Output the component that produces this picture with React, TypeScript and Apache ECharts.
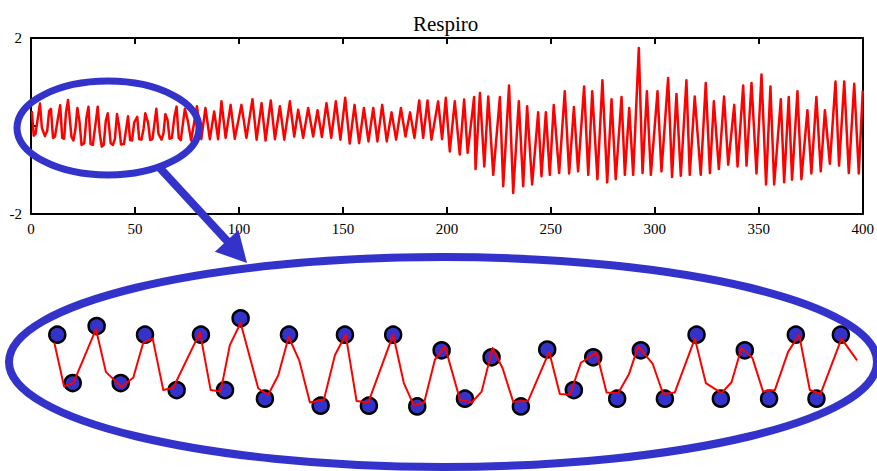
import React, { useEffect, useRef } from "react";
import * as echarts from "echarts";

const chartTitle = "Respiro";
const xTickValues = [0, 50, 100, 150, 200, 250, 300, 350, 400];
const yTickLabels = ["-2", "2"];

// Magnified part of the signal (first ~75 samples), shown in the lower ellipse too
const detailX = [0.40, 1.31, 2.18, 4.30, 5.23, 6.70, 7.79, 8.72, 9.60, 10.59, 11.52, 14.02, 15.02, 15.95, 16.82, 17.82, 19.47, 20.40, 21.34, 22.31, 23.30, 24.30, 25.61, 26.64, 27.64, 28.66, 29.75, 32.08, 33.08, 34.02, 34.98, 35.98, 36.92, 38.32, 39.41, 40.35, 41.37, 42.31, 43.30, 44.70, 46.66, 47.66, 48.60, 49.63, 51.09, 52.03, 53.11, 54.14, 54.98, 56.33, 57.32, 58.41, 60.28, 61.31, 62.78, 63.71, 64.64, 65.67, 66.66, 67.76, 69.00, 70.03, 71.03, 72.03, 73.99, 75.45];
const detailY = [0.34, -0.22, -0.18, 0.51, -0.04, -0.23, -0.11, 0.34, 0.39, -0.27, -0.24, 0.47, -0.27, -0.29, 0.31, 0.59, -0.25, -0.33, -0.08, 0.41, 0.11, -0.43, -0.39, 0.18, 0.44, -0.41, -0.43, 0.44, -0.18, -0.47, -0.43, 0.12, 0.29, -0.39, -0.43, -0.29, 0.27, 0.01, -0.42, -0.41, 0.22, -0.32, -0.33, 0.08, 0.21, -0.30, -0.31, -0.06, 0.29, 0.07, -0.32, -0.30, 0.39, -0.18, -0.31, -0.17, 0.27, 0.14, -0.29, -0.27, 0.22, 0.44, -0.27, -0.32, 0.39, 0.11];

// Remaining signal (peaks and troughs)
const restX = [77.0, 79.8, 81.9, 83.9, 86.0, 88.1, 90.0, 91.6, 93.6, 96.0, 98.0, 101.2, 103.6, 106.5, 108.5, 110.9, 112.8, 115.3, 117.3, 119.7, 121.8, 124.5, 126.6, 128.5, 130.9, 133.3, 135.7, 137.8, 139.9, 142.1, 144.4, 146.6, 148.8, 151.1, 153.3, 155.6, 157.8, 160.1, 162.3, 164.6, 166.6, 168.9, 171.1, 173.4, 175.6, 177.9, 180.1, 182.3, 184.4, 186.7, 188.6, 190.7, 192.6, 195.8, 197.7, 199.5, 201.4, 203.8, 206.2, 208.3, 210.0, 213.1, 213.8, 215.9, 218.0, 219.9, 222.3, 225.5, 227.1, 229.9, 231.9, 234.6, 236.7, 238.6, 241.0, 243.9, 245.5, 247.6, 249.5, 251.4, 254.0, 256.7, 258.8, 261.1, 263.1, 266.0, 268.0, 269.9, 272.4, 274.8, 277.1, 279.2, 281.2, 284.0, 285.6, 287.7, 289.6, 292.3, 294.1, 296.2, 298.1, 301.3, 303.2, 306.4, 308.3, 310.4, 312.5, 315.2, 316.8, 319.2, 322.1, 324.5, 326.5, 328.4, 330.8, 333.3, 335.3, 338.2, 339.8, 342.5, 344.1, 346.5, 348.9, 351.3, 353.5, 355.6, 357.4, 360.6, 362.2, 364.4, 366.0, 368.6, 370.5, 373.4, 375.3, 377.7, 379.8, 381.8, 384.2, 386.9, 388.6, 391.1, 393.3, 395.9, 398.1, 400.0];
const restY = [-0.33, 0.45, -0.30, 0.41, -0.30, 0.33, -0.30, 0.56, -0.27, 0.48, -0.29, 0.48, -0.27, 0.61, -0.31, 0.52, -0.33, 0.58, -0.30, 0.45, -0.31, 0.56, -0.24, 0.37, -0.27, 0.41, -0.24, 0.36, -0.25, 0.52, -0.27, 0.56, -0.31, 0.64, -0.40, 0.48, -0.39, 0.41, -0.35, 0.41, -0.35, 0.48, -0.35, 0.31, -0.31, 0.41, -0.24, 0.31, -0.27, 0.58, -0.27, 0.58, -0.31, 0.56, -0.30, 0.64, -0.58, 0.56, -0.65, 0.60, -0.61, 0.66, -0.98, 0.75, -0.92, 0.67, -1.11, 0.66, -1.37, 0.92, -1.52, 0.56, -1.37, 0.45, -1.33, 0.31, -1.14, 0.31, -1.11, 0.48, -1.07, 0.79, -1.08, 0.43, -1.03, 0.90, -1.11, 0.79, -1.21, 1.04, -1.28, 0.61, -1.21, 0.66, -1.11, 0.41, -1.11, 1.77, -1.07, 0.79, -1.11, 0.79, -1.03, 1.09, -1.16, 0.73, -1.13, 1.04, -1.11, 0.67, -1.11, 0.98, -1.07, 0.56, -0.98, 0.67, -0.88, 0.48, -0.92, 0.92, -0.90, 0.98, -1.08, 1.17, -1.33, 0.90, -1.33, 0.61, -1.28, 0.66, -1.22, 0.79, -1.21, 0.36, -1.08, 0.66, -1.03, 0.36, -0.86, 1.01, -0.90, 1.01, -1.07, 0.96, -1.08, 0.80];

// Marked peaks / troughs in the magnified view
const dotX = [0.68, 2.12, 4.36, 6.61, 8.88, 11.84, 14.11, 16.36, 17.82, 20.09, 22.34, 25.30, 27.57, 29.81, 32.08, 34.33, 36.61, 38.79, 41.28, 44.02, 46.48, 48.97, 50.78, 53.02, 55.23, 57.48, 60.44, 62.71, 64.95, 67.22, 69.72, 71.65, 73.93];
const dotY = [0.44, -0.18, 0.55, -0.18, 0.44, -0.27, 0.44, -0.27, 0.65, -0.38, 0.44, -0.47, 0.44, -0.47, 0.44, -0.48, 0.24, -0.38, 0.15, -0.48, 0.25, -0.27, 0.15, -0.38, 0.24, -0.38, 0.44, -0.38, 0.24, -0.38, 0.44, -0.38, 0.44];

const BLUE = "#3333CC";
const RED = "#FF0000";
const FONT = "Liberation Serif";

export default function App() {
  const ref = useRef<HTMLDivElement>(null);
  useEffect(() => {
    if (!ref.current) return;
    const chart = echarts.init(ref.current, null, { renderer: "svg" });
    const full = [
      ...detailX.map((x, i) => [x, detailY[i]]),
      ...restX.map((x, i) => [x, restY[i]]),
    ];
    const detail = detailX.map((x, i) => [x, detailY[i]]);
    const dots = dotX.map((x, i) => [x, dotY[i]]);
    const axisLine = { show: true, onZero: false, lineStyle: { color: "#000", width: 2 } };
    chart.setOption({
      animation: false,
      backgroundColor: "#fff",
      title: {
        text: chartTitle,
        left: 408,
        top: 8,
        textStyle: { fontFamily: FONT, fontSize: 21, fontWeight: "normal", color: "#000" },
      },
      grid: [
        { left: 31, top: 38, width: 833, height: 176 },
        { left: 50, top: 291, width: 813, height: 156 },
      ],
      xAxis: [
        {
          type: "value", gridIndex: 0, min: xTickValues[0], max: xTickValues[xTickValues.length - 1],
          interval: xTickValues[1] - xTickValues[0], position: "bottom",
          axisLine, splitLine: { show: false },
          axisTick: { inside: true, length: 7, lineStyle: { color: "#000", width: 2 } },
          axisLabel: { color: "#000", fontFamily: FONT, fontSize: 15, margin: 7 },
        },
        {
          type: "value", gridIndex: 0, min: xTickValues[0], max: xTickValues[xTickValues.length - 1],
          interval: xTickValues[1] - xTickValues[0], position: "top",
          axisLine, splitLine: { show: false },
          axisTick: { inside: true, length: 6, lineStyle: { color: "#000", width: 2 } },
          axisLabel: { show: false },
        },
        { type: "value", gridIndex: 1, min: 0, max: 76, show: false },
      ],
      yAxis: [
        {
          type: "value", gridIndex: 0, min: Number(yTickLabels[0]), max: Number(yTickLabels[1]), interval: 2,
          position: "left", axisLine, splitLine: { show: false },
          axisTick: { inside: true, length: 5, lineStyle: { color: "#000", width: 2 } },
          axisLabel: {
            color: "#000", fontFamily: FONT, fontSize: 15, margin: 9,
            formatter: (v: number) => (yTickLabels.includes(String(v)) ? String(v) : ""),
          },
        },
        {
          type: "value", gridIndex: 0, min: -2, max: 2, position: "right",
          axisLine, axisTick: { show: false }, axisLabel: { show: false }, splitLine: { show: false },
        },
        { type: "value", gridIndex: 1, min: -1, max: 1, show: false },
      ],
      series: [
        {
          type: "line", xAxisIndex: 0, yAxisIndex: 0, data: full, showSymbol: false,
          lineStyle: { color: RED, width: 2.5, join: "round" }, z: 2,
        },
        {
          type: "scatter", xAxisIndex: 2, yAxisIndex: 2, data: dots, symbolSize: 16,
          itemStyle: { color: BLUE, borderColor: "#000", borderWidth: 2.5, opacity: 1 }, z: 2,
        },
        {
          type: "line", xAxisIndex: 2, yAxisIndex: 2, data: detail, showSymbol: false,
          lineStyle: { color: RED, width: 2, join: "round" }, z: 3,
        },
      ],
      graphic: [
        {
          type: "ellipse", shape: { cx: 108, cy: 128, rx: 91, ry: 47 },
          style: { fill: "none", stroke: BLUE, lineWidth: 7 }, z: 10,
        },
        {
          type: "line", shape: { x1: 158, y1: 166, x2: 229, y2: 243 },
          style: { stroke: BLUE, lineWidth: 8 }, z: 10,
        },
        {
          type: "polygon", shape: { points: [[247, 263], [214.9, 251.7], [238.5, 230.1]] },
          style: { fill: BLUE }, z: 10,
        },
        {
          type: "ellipse", shape: { cx: 443, cy: 362, rx: 434, ry: 105 },
          style: { fill: "none", stroke: BLUE, lineWidth: 8 }, z: 10,
        },
      ],
    });
    return () => chart.dispose();
  }, []);
  return (
    <div
      ref={ref}
      style={{ position: "fixed", left: 0, top: 0, width: 877, height: 471 }}
    />
  );
}
